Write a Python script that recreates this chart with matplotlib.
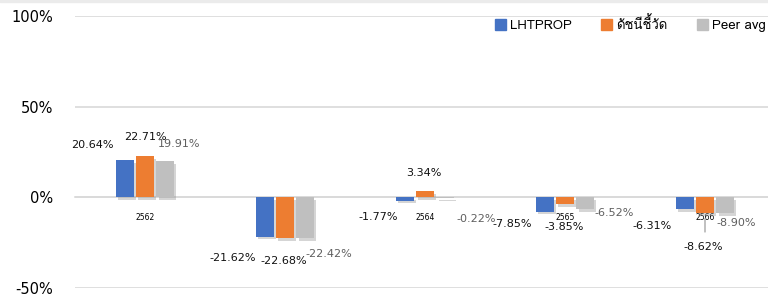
import numpy as np
import matplotlib
matplotlib.use("Agg")
import matplotlib.pyplot as plt
import matplotlib.patheffects as pe
from matplotlib import font_manager
from matplotlib.ft2font import FT2Font
from matplotlib.patches import Rectangle, Patch

years = ['2562', '2563', '2564', '2565', '2566']
series_names = ['LHTPROP', 'ดัชนีชี้วัด', 'Peer avg']
lhtprop = [20.64, -21.62, -1.77, -7.85, -6.31]
index_vals = [22.71, -22.68, 3.34, -3.85, -8.62]
peer_avg = [19.91, -22.42, -0.22, -6.52, -8.90]

colors = ['#4472C4', '#ED7D31', '#BFBFBF']
label_colors = ['#111111', '#111111', '#5f5f5f']

# label offsets in pixels from the bar end (dx, dy up)
label_offsets = [
    [(-32, 15), (-32, -21), (-26, -16), (-32, -12), (-32, -17)],
    [(0, 19), (-1, -23), (-1, 18), (-1, -23), (-2, -34)],
    [(14, 17), (23, -16), (31, -21), (29, -4), (11, -10)],
]


def thai_font():
    for f in font_manager.fontManager.ttflist:
        try:
            cm = FT2Font(f.fname).get_charmap()
        except Exception:
            continue
        if 0x0E14 in cm and 0x0E0A in cm:
            return f.name
    return None


tf = thai_font()
thai_family = [tf, 'DejaVu Sans'] if tf else ['DejaVu Sans']

fig = plt.figure(figsize=(7.68, 2.97), dpi=100)
fig.patches.append(Rectangle((0, 1 - 2 / 297), 1, 2 / 297, transform=fig.transFigure,
                             color='#ebebeb', zorder=0))
ax = fig.add_axes([75 / 768, 9 / 297, 700 / 768, 272 / 297])
ax.set_xlim(-0.5, 4.5)
ax.set_ylim(-50, 100)
ax.set_yticks([-50, 0, 50, 100])
ax.set_yticklabels(['-50%', '0%', '50%', '100%'], fontsize=10.5)
ax.tick_params(axis='y', length=0, pad=16)
ax.yaxis.grid(True, color='#d9d9d9', lw=1.2)
ax.set_axisbelow(True)
for s in ['top', 'right', 'left']:
    ax.spines[s].set_visible(False)
ax.spines['bottom'].set_position(('data', 0))
ax.spines['bottom'].set_color('#d9d9d9')
ax.spines['bottom'].set_linewidth(1.2)
ax.set_xticks(range(len(years)))
ax.set_xticklabels(years, fontsize=5.5)
ax.tick_params(axis='x', length=0, pad=11)

x = np.arange(len(years))
w = 0.128
shifts = [-0.146, 0, 0.146]
all_vals = [lhtprop, index_vals, peer_avg]
shadow = [pe.SimplePatchShadow(offset=(1.5, -2), shadow_rgbFace='#888888', alpha=0.35),
          pe.Normal()]
for k, vals in enumerate(all_vals):
    bars = ax.bar(x + shifts[k], vals, w, color=colors[k], zorder=3)
    for b in bars:
        b.set_path_effects(shadow)
    for i, v in enumerate(vals):
        dx, dy = label_offsets[k][i]
        ax.annotate(f'{v:.2f}%', xy=(x[i] + shifts[k], v), xytext=(dx, dy),
                    textcoords='offset pixels', ha='center', va='center',
                    fontsize=8, color=label_colors[k], zorder=5,
                    annotation_clip=False)

# leader line for the 2566 index label
ax.annotate('', xy=(x[4] + shifts[1], index_vals[4]), xytext=(0, -19),
            textcoords='offset pixels',
            arrowprops=dict(arrowstyle='-', color='#a6a6a6', lw=1, shrinkA=0, shrinkB=4))

handles = [Patch(color=c) for c in colors]
leg = fig.legend(handles, series_names, loc='center left', bbox_to_anchor=(495 / 768, 1 - 24.5 / 297),
                 ncol=3, frameon=False, fontsize=9.5, handlelength=0.85, handleheight=0.9,
                 handletextpad=0.3, columnspacing=2.2, borderpad=0, borderaxespad=0)
for t in leg.get_texts():
    t.set_family(thai_family)

fig.savefig('out.png', dpi=100)
